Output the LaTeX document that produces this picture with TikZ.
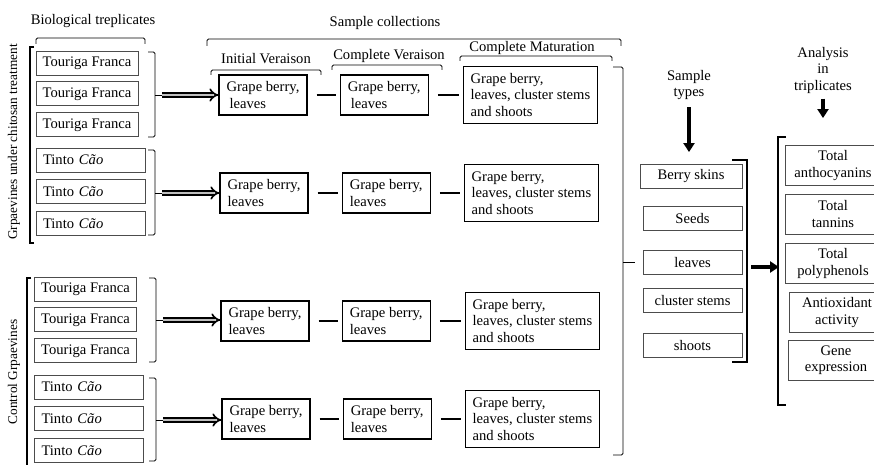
\documentclass[tikz,border=0pt]{standalone}
\usepackage{fontspec}
\setmainfont{Liberation Serif}
\usetikzlibrary{arrows.meta,positioning}

\begin{document}
\begin{tikzpicture}[x=1pt,y=-1pt,node distance=32pt,
  font=\fontsize{14.6}{16.5}\selectfont,
  vine/.style={draw=black!70,line width=0.9pt,minimum height=24pt,
    minimum width=102pt,inner xsep=5pt},
  cao/.style={vine,align=left,inner xsep=7pt,text width=95pt},
  stage/.style={draw,line width=1.2pt,align=left,inner xsep=5pt,
    minimum width=88pt,minimum height=40pt},
  ripe/.style={stage,minimum width=134pt,minimum height=57pt},
  part/.style={draw=black!70,line width=0.9pt,minimum width=99pt,minimum height=24pt},
  assay/.style={draw=black!70,line width=0.9pt,minimum width=96pt,minimum height=40pt,
    align=center},
  side/.style={rotate=90,font=\fontsize{13.3}{15}\selectfont},
  brace/.style={line width=0.9pt,rounded corners=1.5pt},
  bigbrace/.style={line width=2.4pt},
  hollow/.style={double=black!25,double distance=2.6pt,line width=1.7pt,-{Implies}},
  stick/.style={line width=2.4pt,shorten <=9pt,shorten >=4pt},
  bold/.style={line width=3.2pt,-{Triangle[length=9pt,width=11pt]}}]

\useasboundingbox (0,0) rectangle (874,465);
\clip (0,0) rectangle (874,465);

% headings
\node (bio) at (93,21) {Biological treplicates};
\node (coll) at (385,23) {Sample collections};
\node (iv) at (266,59) {Initial Veraison};
\node (cv) at (389,56) {Complete Veraison};
\node (cm) at (532,48) {Complete Maturation};
\node (stypes) [align=center] at (689,85) {Sample\\types};
\node (atxt) [align=center] at (823,70) {Analysis\\in\\triplicates};

\draw[brace] (36,44) -- (36,38) -- (145,38) -- (145,44);
\draw[brace] (207,46) -- (207,39) -- (621,39) -- (621,46);
\draw[brace] (211,75) -- (211,70) -- (321,70) -- (321,75);
\draw[brace] (332,70) -- (332,65) -- (442,65) -- (442,70);
\draw[brace] (460,61) -- (460,56) -- (612,56) -- (612,61);

% treated vines
\node[side] (treat) at (14,142) {Grpaevines under chitosan treatment};
\draw[bigbrace] (34,47) -- (30,47) -- (30,243) -- (34,243);

\node[vine] (tf1) at (87,63) {Touriga Franca};
\node[vine] (tf2) [below=6pt of tf1] {Touriga Franca};
\node[vine] (tf3) [below=6pt of tf2] {Touriga Franca};
\node[cao] (tc1) at (90.5,160) {Tinto \textit{Cão}};
\node[cao] (tc2) [below=7pt of tc1] {Tinto \textit{Cão}};
\node[cao] (tc3) [below=7pt of tc2] {Tinto \textit{Cão}};

% control vines
\node[side] (ctrl) at (14,372) {Control Grpaevines};
\draw[bigbrace] (31,278) -- (27,278) -- (27,470);

\node[vine] (tf4) at (85.5,289) {Touriga Franca};
\node[vine] (tf5) [below=6pt of tf4] {Touriga Franca};
\node[vine] (tf6) [below=6pt of tf5] {Touriga Franca};
\node[cao] (tc4) at (89,387) {Tinto \textit{Cão}};
\node[cao] (tc5) [below=7pt of tc4] {Tinto \textit{Cão}};
\node[cao] (tc6) [below=7pt of tc5] {Tinto \textit{Cão}};

% group brackets
\draw[brace] (148,52) -- (155,52) -- (155,137) -- (148,137);
\draw[brace] (148,150) -- (155,150) -- (155,235) -- (148,235);
\draw[brace] (149,278) -- (156,278) -- (156,362) -- (149,362);
\draw[brace] (149,378) -- (156,378) -- (156,461) -- (149,461);
\coordinate (g1) at (162,95);
\coordinate (g2) at (162,193);
\coordinate (g3) at (163,320);
\coordinate (g4) at (163,420);
\draw[line width=0.9pt] (155,95) -- (g1);
\draw[line width=0.9pt] (155,193) -- (g2);
\draw[line width=0.9pt] (156,320) -- (g3);
\draw[line width=0.9pt] (156,420) -- (g4);

% sampling stages
\node[stage] (a1) at (263,95) {Grape berry,\\\hspace{3pt}leaves};
\node[stage] (b1) [right=of a1] {Grape berry,\\\hspace{3pt}leaves};
\node[ripe] (c1) [right=34pt of b1] {Grape berry,\\leaves, cluster stems\\and shoots};

\node[stage] (a2) at (264,193) {Grape berry,\\leaves};
\node[stage] (b2) [right=33pt of a2] {Grape berry,\\leaves};
\node[ripe] (c2) [right=33pt of b2] {Grape berry,\\leaves, cluster stems\\and shoots};

\node[stage] (a3) at (265,321) {Grape berry,\\leaves};
\node[stage] (b3) [right=of a3] {Grape berry,\\leaves};
\node[ripe] (c3) [right=34pt of b3] {Grape berry,\\leaves, cluster stems\\and shoots};

\node[stage] (a4) at (266,419) {Grape berry,\\leaves};
\node[stage] (b4) [right=of a4] {Grape berry,\\leaves};
\node[ripe] (c4) [right=33pt of b4] {Grape berry,\\leaves, cluster stems\\and shoots};

\draw[hollow] (g1) -- (g1 -| a1.west);
\draw[hollow] (g2) -- (g2 -| a2.west);
\draw[hollow] (g3) -- (g3 -| a3.west);
\draw[hollow] (g4) -- (g4 -| a4.west);

\draw[stick] (a1) -- (b1);
\draw[stick] (b1) -- (c1);
\draw[stick] (a2) -- (b2);
\draw[stick] (b2) -- (c2);
\draw[stick] (a3) -- (b3);
\draw[stick] (b3) -- (c3);
\draw[stick] (a4) -- (b4);
\draw[stick] (b4) -- (c4);

% all collections
\draw[brace] (613,67) -- (623,67) -- (623,455) -- (613,455);
\coordinate (all) at (635,262);
\draw[line width=0.9pt] (623,262) -- (all);

% sample types
\node[part,minimum width=102pt] (skins) at (691,176.5) {Berry skins};
\node[part] (seeds) at (692.5,218.5) {Seeds};
\node[part] (leaves) at (692.5,262.5) {leaves};
\node[part] (stems) at (692.5,300.5) {cluster stems};
\node[part] (shoots) at (692.5,345.5) {shoots};
\draw[bold,shorten <=4pt,shorten >=12pt] (stypes) -- (stypes |- skins.north);

\draw[bigbrace] (732,160) -- (747,160) -- (747,362) -- (732,362);
\coordinate (sb) at (751,267);
\coordinate (ab) at (779,267);
\draw[bold] (sb) -- (ab);

% analyses
\draw[bigbrace] (786,137) -- (778,137) -- (778,405) -- (786,405);
\node[assay] (anth) at (833,165.5) {Total\\anthocyanins};
\node[assay] (tann) at (833,214) {Total\\tannins};
\node[assay] (poly) at (833,263.5) {Total\\polyphenols};
\node[assay] (antiox) at (837,312.5) {Antioxidant\\activity};
\node[assay] (gene) at (836,360) {Gene\\expression};
\draw[bold,shorten <=2pt,shorten >=27pt] (atxt) -- (atxt |- anth.north);

\end{tikzpicture}
\end{document}
